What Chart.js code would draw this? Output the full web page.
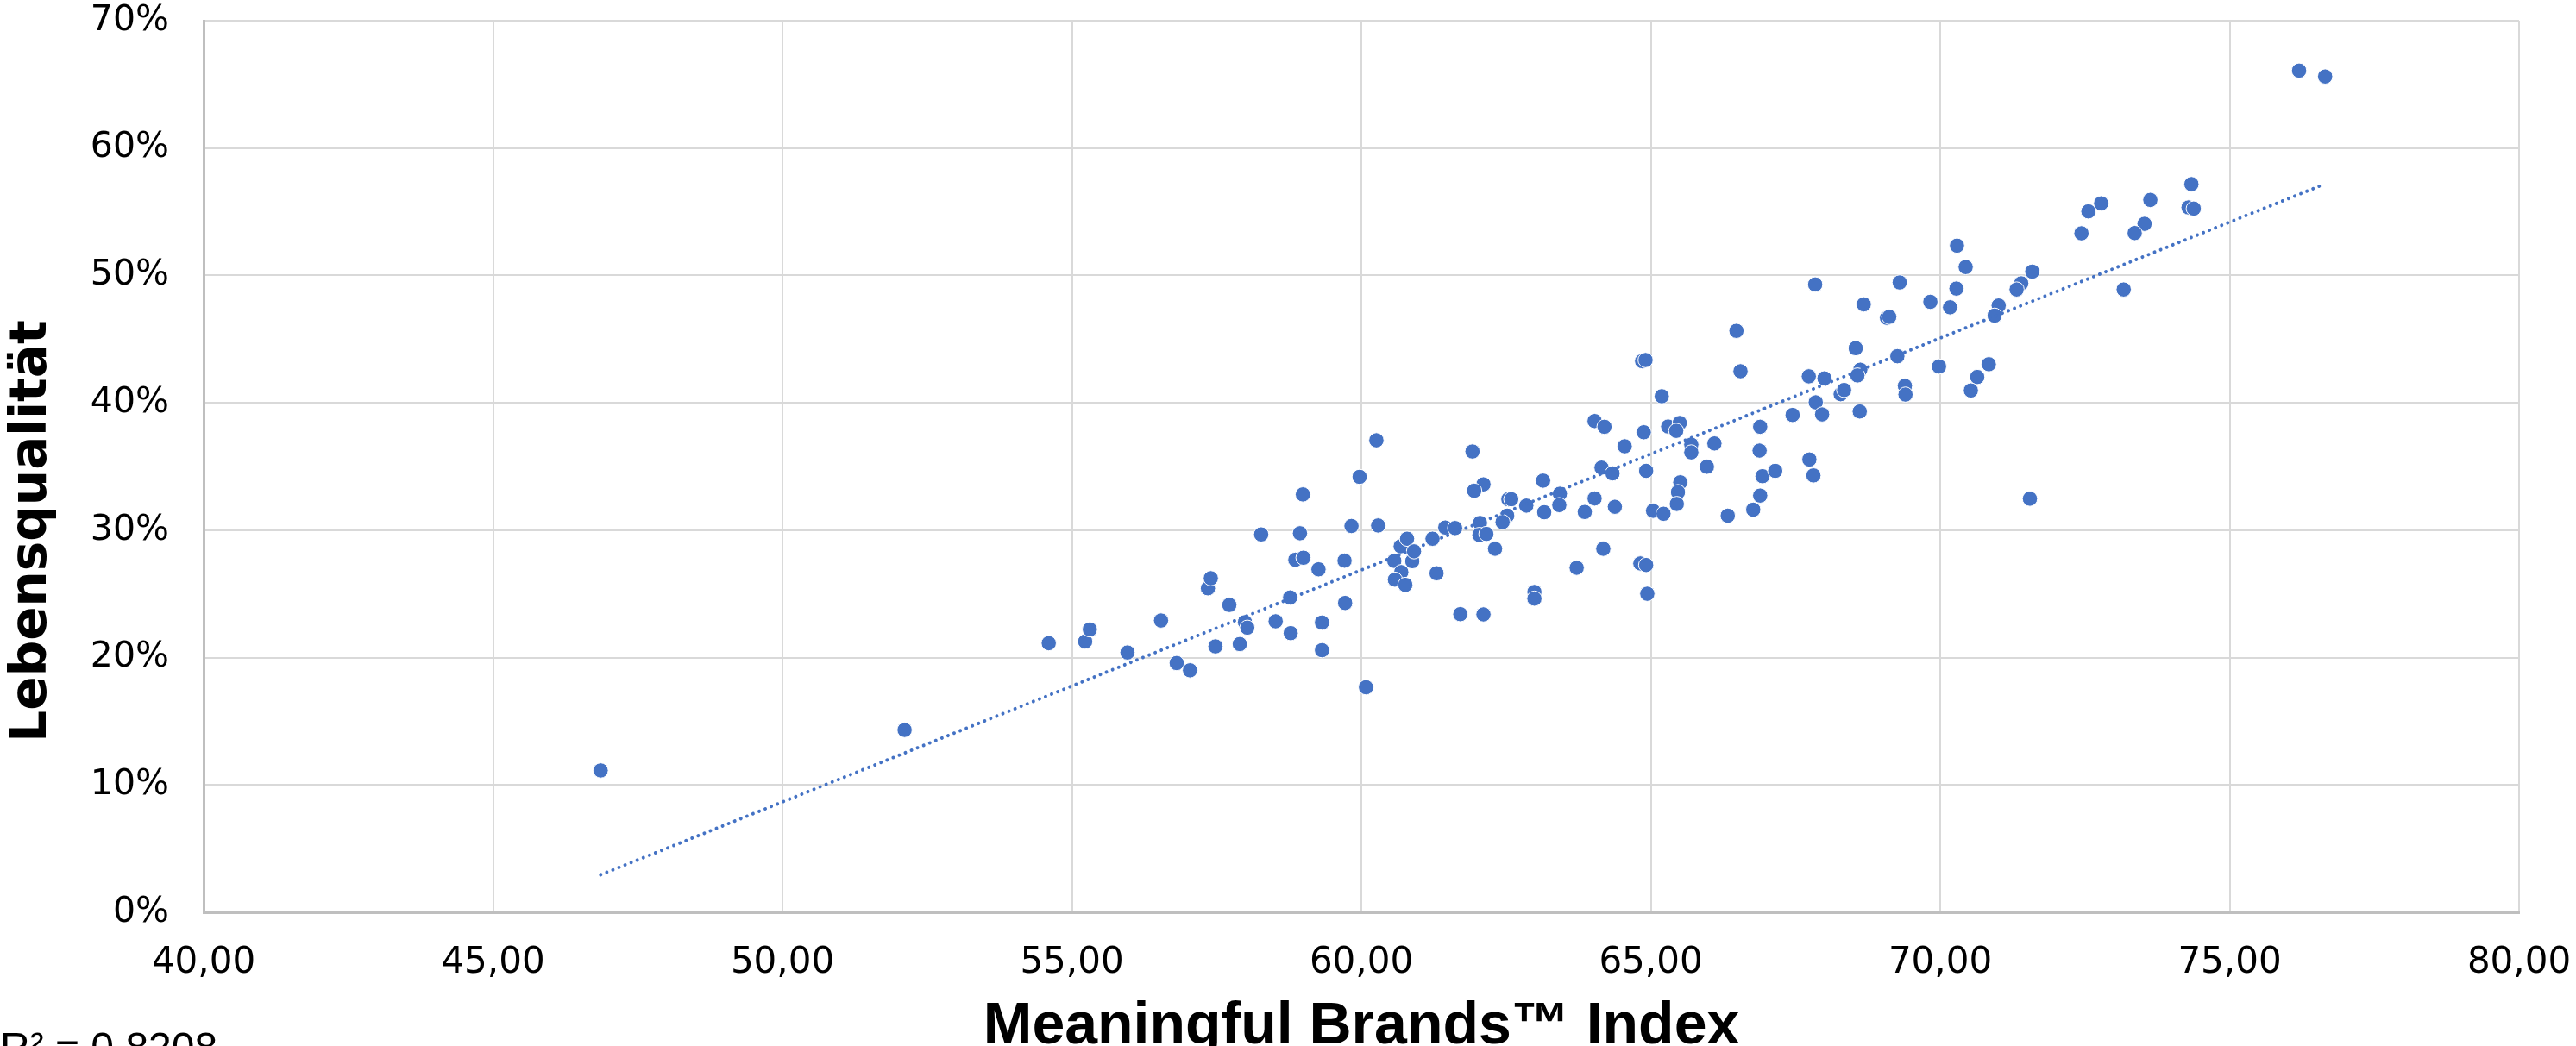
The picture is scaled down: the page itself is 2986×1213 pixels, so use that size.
<!DOCTYPE html>
<html>
<head>
<meta charset="utf-8">
<script src="https://cdn.jsdelivr.net/npm/chart.js@4"></script>
<style>
html,body{margin:0;padding:0;background:#ffffff;}
canvas{display:block;}
</style>
</head>
<body>
<canvas id="c" width="2986" height="1213"></canvas>
<script>
// Meaningful Brands™ Index (x) per market
const indexValues = [
  46.86, 52.11, 54.60,
  55.23, 55.31, 55.96, 56.54, 56.81, 57.04, 57.35, 57.40, 57.48, 57.72, 57.90, 57.99, 58.03,
  58.27, 58.52, 58.77, 58.78, 58.86, 58.94, 58.99, 59.00, 59.26, 59.32, 59.32, 59.71, 59.72,
  59.83, 59.97, 60.08, 60.26, 60.29, 60.57, 60.68, 60.79, 60.69, 60.58, 60.76, 60.88, 60.91,
  61.23, 61.30, 61.45, 61.62, 61.71,
  66.48, 64.85, 64.91, 66.55, 67.73, 68.00, 65.19, 67.85, 67.96, 67.45, 68.28, 68.34, 64.03,
  64.20, 64.88, 65.30, 65.50, 65.44, 66.89, 64.55, 65.70, 65.70, 66.10, 66.88, 61.92, 65.97,
  67.74, 64.15, 64.34, 64.92, 67.81, 66.93, 67.15, 62.11, 61.95, 63.14, 65.51, 65.47, 66.89,
  62.54, 62.59, 63.43, 63.42, 64.03, 62.85, 64.38, 65.45, 62.52, 62.44, 63.16, 63.86, 65.04,
  65.22, 66.33, 66.77, 62.05, 62.04, 62.16, 62.31, 64.18, 63.72, 64.82, 64.92, 62.99, 62.99,
  64.94, 62.11,
  74.34, 74.29, 74.38, 73.63, 73.53, 73.36, 72.78, 72.56, 72.44, 73.17, 71.59, 71.40, 71.32,
  70.29, 70.44, 70.28, 69.30, 68.68, 69.83, 70.17, 69.08, 69.12, 71.01, 70.94, 68.54, 69.26,
  68.62, 68.57, 69.98, 70.84, 70.64, 70.53, 69.39, 69.40, 68.61, 71.55,
  67.84, 76.20, 76.65
];
// Lebensqualität in percent, same order
const qualityValues = [
  11.14, 14.32, 21.13,
  21.26, 22.21, 20.40, 22.91, 19.57, 19.00, 25.44, 26.23, 20.88, 24.13, 21.06, 22.78, 22.35,
  29.67, 22.85, 24.72, 21.92, 27.68, 29.76, 32.81, 27.84, 26.93, 22.75, 20.58, 27.61, 24.29,
  30.33, 34.19, 17.67, 37.06, 30.37, 27.59, 28.74, 29.33, 26.71, 26.12, 25.71, 27.57, 28.34,
  29.33, 26.62, 30.21, 30.17, 23.41,
  45.65, 43.27, 43.36, 42.48, 42.08, 41.92, 40.52, 40.04, 39.09, 39.05, 40.68, 41.01, 38.57,
  38.12, 37.69, 38.14, 38.42, 37.80, 38.12, 36.59, 36.72, 36.11, 36.81, 36.25, 36.18, 34.98,
  35.55, 34.91, 34.46, 34.66, 34.30, 34.24, 34.66, 33.60, 33.10, 33.89, 33.76, 32.99, 32.72,
  32.43, 32.43, 32.86, 31.97, 32.49, 31.93, 31.84, 32.06, 31.14, 30.64, 31.41, 31.43, 31.52,
  31.29, 31.14, 31.61, 30.57, 29.63, 29.71, 28.54, 28.54, 27.05, 27.39, 27.27, 25.15, 24.63,
  25.01, 23.39,
  57.17, 55.34, 55.25, 55.93, 54.05, 53.33, 55.66, 55.03, 53.31, 48.90, 50.30, 49.38, 48.90,
  52.34, 50.66, 48.97, 49.45, 47.73, 47.93, 47.50, 46.67, 46.75, 47.64, 46.85, 44.29, 43.66,
  42.60, 42.15, 42.85, 43.03, 42.03, 40.97, 41.33, 40.65, 39.32, 32.47,
  49.29, 66.08, 65.62
];
const xTickValues = [40, 45, 50, 55, 60, 65, 70, 75, 80];
const yTickValues = [0, 10, 20, 30, 40, 50, 60, 70];
const xTitle = 'Meaningful Brands™ Index';
const yTitle = 'Lebensqualität';
const r2Label = 'R² = 0,8208';

// scatter points
const points = indexValues.map((x, i) => ({ x: x, y: qualityValues[i] }));

// linear least-squares trendline over the data range
const n = indexValues.length;
let sx = 0, sy = 0, sxx = 0, sxy = 0;
for (let i = 0; i < n; i++) {
  const x = indexValues[i], y = qualityValues[i];
  sx += x; sy += y; sxx += x * x; sxy += x * y;
}
const slope = (n * sxy - sx * sy) / (n * sxx - sx * sx);
const intercept = (sy - slope * sx) / n;
const minX = Math.min(...indexValues), maxX = Math.max(...indexValues);
const trend = [minX, maxX].map(x => ({ x: x, y: intercept + slope * x }));

const BLUE = '#4472C4';

const titlePlugin = {
  id: 'titles',
  afterDraw(chart) {
    const { ctx, chartArea } = chart;
    ctx.save();
    ctx.fillStyle = '#000000';
    ctx.textAlign = 'center';
    ctx.textBaseline = 'alphabetic';
    ctx.font = 'bold 68px "Liberation Sans", Arial, sans-serif';
    ctx.fillText(xTitle, (chartArea.left + chartArea.right) / 2, chartArea.bottom + 152);
    ctx.restore();

    ctx.save();
    ctx.fillStyle = '#000000';
    ctx.translate(53, 616);
    ctx.rotate(-Math.PI / 2);
    ctx.textAlign = 'center';
    ctx.textBaseline = 'alphabetic';
    ctx.font = 'bold 58px "DejaVu Sans", sans-serif';
    ctx.fillText(yTitle, 0, 0);
    ctx.restore();

    ctx.save();
    ctx.fillStyle = '#000000';
    ctx.textAlign = 'left';
    ctx.textBaseline = 'alphabetic';
    ctx.font = '48px "Liberation Sans", Arial, sans-serif';
    ctx.fillText(r2Label, 0, 1231);
    ctx.restore();
  }
};

new Chart(document.getElementById('c'), {
  type: 'scatter',
  data: {
    datasets: [
      {
        type: 'line',
        label: 'Trend',
        data: trend,
        order: 0,
        showLine: true,
        borderColor: BLUE,
        borderWidth: 4,
        borderDash: [0.01, 7.6],
        borderCapStyle: 'round',
        pointRadius: 0,
        fill: false,
        tension: 0
      },
      {
        label: 'Märkte',
        data: points,
        order: 1,
        backgroundColor: BLUE,
        borderColor: '#ffffff',
        borderWidth: 1,
        pointRadius: 8.8,
        pointHoverRadius: 8.8
      }
    ]
  },
  options: {
    responsive: false,
    animation: false,
    devicePixelRatio: 1,
    layout: { padding: { top: 24, right: 66, bottom: 0, left: 0 } },
    plugins: {
      legend: { display: false },
      tooltip: { enabled: false },
      title: { display: false }
    },
    scales: {
      x: {
        type: 'linear',
        position: 'bottom',
        min: 40,
        max: 80,
        afterBuildTicks: s => { s.ticks = xTickValues.map(v => ({ value: v })); },
        afterFit: s => { s.height = 155; s.paddingLeft = 0; s.paddingRight = 0; },
        grid: { color: '#d9d9d9', lineWidth: 2, drawTicks: false },
        border: { color: '#bfbfbf', width: 3 },
        ticks: {
          padding: 34,
          color: '#000000',
          font: { family: '"DejaVu Sans", sans-serif', size: 42 },
          maxRotation: 0,
          callback: v => Number(v).toFixed(2).replace('.', ',')
        },
        title: { display: false }
      },
      y: {
        type: 'linear',
        min: 0,
        max: 70,
        afterBuildTicks: s => { s.ticks = yTickValues.map(v => ({ value: v })); },
        afterFit: s => { s.width = 236; s.paddingTop = 0; s.paddingBottom = 0; },
        grid: { color: '#d9d9d9', lineWidth: 2, drawTicks: false },
        border: { color: '#bfbfbf', width: 3 },
        ticks: {
          padding: 40,
          color: '#000000',
          font: { family: '"DejaVu Sans", sans-serif', size: 41 },
          callback: v => v + '%'
        },
        title: { display: false }
      }
    }
  },
  plugins: [titlePlugin]
});
</script>
</body>
</html>
